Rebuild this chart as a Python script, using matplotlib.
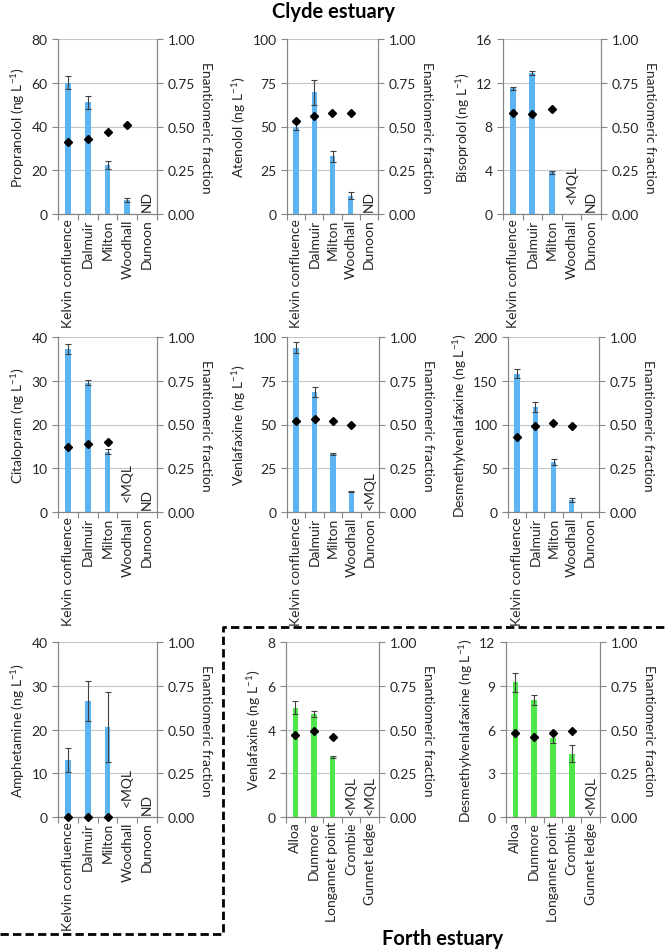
import numpy as np
import matplotlib.pyplot as plt
from matplotlib.lines import Line2D

plt.rcParams['font.family'] = ['Lato', 'DejaVu Sans']
plt.rcParams['mathtext.default'] = 'regular'
FS = 10

clyde_sites = ["Kelvin confluence", "Dalmuir", "Milton", "Woodhall", "Dunoon"]
forth_sites = ["Alloa", "Dunmore", "Longannet point", "Crombie", "Gunnet ledge"]

# concentrations (ng/L), errors, enantiomeric fractions; nan = nothing drawn
propranolol = [60, 51, 22.5, 6.5, np.nan]
propranolol_err = [3, 3, 1.8, 0.8, np.nan]
propranolol_ef = [0.41, 0.43, 0.47, 0.51, np.nan]

atenolol = [50, 69.5, 33, 10.5, np.nan]
atenolol_err = [2, 7, 3, 1.8, np.nan]
atenolol_ef = [0.53, 0.56, 0.58, 0.58, np.nan]

bisoprolol = [11.5, 12.9, 3.8, np.nan, np.nan]
bisoprolol_err = [0.15, 0.15, 0.15, np.nan, np.nan]
bisoprolol_ef = [0.58, 0.57, 0.60, np.nan, np.nan]

citalopram = [37.3, 29.6, 13.8, np.nan, np.nan]
citalopram_err = [1.2, 0.6, 0.6, np.nan, np.nan]
citalopram_ef = [0.37, 0.39, 0.40, np.nan, np.nan]

venlafaxine = [94, 68.5, 33, 11.7, np.nan]
venlafaxine_err = [3, 3, 0.7, 0.3, np.nan]
venlafaxine_ef = [0.52, 0.53, 0.52, 0.50, np.nan]

dvf = [158, 120, 57, 14, np.nan]
dvf_err = [5, 6, 3.5, 2, np.nan]
dvf_ef = [0.43, 0.49, 0.51, 0.49, np.nan]

amphetamine = [13, 26.5, 20.5, np.nan, np.nan]
amphetamine_err = [2.7, 4.5, 8, np.nan, np.nan]
amphetamine_ef = [0, 0, 0, np.nan, np.nan]

venlafaxine_f = [5.0, 4.7, 2.75, np.nan, np.nan]
venlafaxine_f_err = [0.3, 0.15, 0.05, np.nan, np.nan]
venlafaxine_f_ef = [0.47, 0.49, 0.46, np.nan, np.nan]

dvf_f = [9.25, 8.0, 5.4, 4.35, np.nan]
dvf_f_err = [0.65, 0.35, 0.3, 0.6, np.nan]
dvf_f_ef = [0.48, 0.46, 0.48, 0.49, np.nan]

# notes at empty sites: (index, text)
propranolol_notes = [(4, "ND")]
atenolol_notes = [(4, "ND")]
bisoprolol_notes = [(3, "<MQL"), (4, "ND")]
citalopram_notes = [(3, "<MQL"), (4, "ND")]
venlafaxine_notes = [(4, "<MQL")]
dvf_notes = []
amphetamine_notes = [(3, "<MQL"), (4, "ND")]
venlafaxine_f_notes = [(3, "<MQL"), (4, "<MQL")]
dvf_f_notes = [(4, "<MQL")]

W, H = 667, 953
BLUE = "#5db4f2"
GREEN = "#4fe64a"
GRID = "#bfc7cc"
SPINE = "#868686"
TXT = "#262626"


def box(l, t, r, b):
    return [l / W, 1 - b / H, (r - l) / W, (b - t) / H]


def panel(rect, name, sites, conc, err, ef, notes, ymax, step, color):
    ax = fig.add_axes(rect)
    x = np.arange(len(sites))
    ax.bar(x, conc, width=0.3, color=color, zorder=2)
    ax.errorbar(x, conc, yerr=err, fmt='none', ecolor='#404040',
                elinewidth=0.8, capsize=2, capthick=0.8, zorder=3)
    ax.set_xlim(-0.5, len(sites) - 0.5)
    ax.set_ylim(0, ymax)
    ax.set_yticks(np.arange(0, ymax + step / 2, step))
    ax.yaxis.grid(True, color=GRID, lw=0.8, zorder=0)
    ax.set_axisbelow(True)
    ax.set_xticks(np.arange(len(sites) + 1) - 0.5)
    ax.set_xticklabels([])
    ax.tick_params(axis='x', length=4, color=SPINE, direction='out')
    ax.tick_params(axis='y', length=4, color=SPINE, colors=TXT, labelsize=FS)
    for i, s in enumerate(sites):
        ax.text(i, -0.025, s, transform=ax.get_xaxis_transform(),
                rotation=90, ha='center', va='top', color=TXT, fontsize=FS)
    ax.spines['top'].set_visible(False)
    for sp in ['left', 'right', 'bottom']:
        ax.spines[sp].set_color(SPINE)
    ax.set_ylabel(name + " (ng L$^{-1}$)", color=TXT, fontsize=FS, labelpad=3)

    for i, t in notes:
        off = 8 if (t == "<MQL" and any(n[1] == "ND" for n in notes)) else 2
        ax.annotate(t, (i, 0), xytext=(0, off), textcoords='offset points',
                    rotation=90, ha='center', va='bottom', color=TXT, fontsize=FS)

    ax2 = ax.twinx()
    ax2.set_ylim(0, 1)
    ax2.set_yticks([0, 0.25, 0.5, 0.75, 1.0])
    ax2.set_yticklabels(["0.00", "0.25", "0.50", "0.75", "1.00"])
    ax2.tick_params(axis='y', length=4, color=SPINE, colors=TXT, labelsize=FS)
    ax2.spines['top'].set_visible(False)
    for sp in ['left', 'right', 'bottom']:
        ax2.spines[sp].set_color(SPINE)
    ax2.plot(x, ef, 'D', color='black', ms=4.5, zorder=4, clip_on=False)
    ax2.set_ylabel("Enantiomeric fraction", rotation=270, va='bottom',
                   color=TXT, fontsize=FS, labelpad=4)
    return ax


fig = plt.figure(figsize=(W / 100, H / 100), dpi=100)

panel(box(58, 40, 157, 215), "Propranolol", clyde_sites, propranolol,
      propranolol_err, propranolol_ef, propranolol_notes, 80, 20, BLUE)
panel(box(287, 40, 378, 215), "Atenolol", clyde_sites, atenolol,
      atenolol_err, atenolol_ef, atenolol_notes, 100, 25, BLUE)
panel(box(503, 40, 601, 215), "Bisoprolol", clyde_sites, bisoprolol,
      bisoprolol_err, bisoprolol_ef, bisoprolol_notes, 16, 4, BLUE)

panel(box(58, 338, 157, 513), "Citalopram", clyde_sites, citalopram,
      citalopram_err, citalopram_ef, citalopram_notes, 40, 10, BLUE)
panel(box(287, 338, 379, 513), "Venlafaxine", clyde_sites, venlafaxine,
      venlafaxine_err, venlafaxine_ef, venlafaxine_notes, 100, 25, BLUE)
panel(box(508, 338, 599, 513), "Desmethylvenlafaxine", clyde_sites, dvf,
      dvf_err, dvf_ef, dvf_notes, 200, 50, BLUE)

panel(box(58, 643, 157, 818), "Amphetamine", clyde_sites, amphetamine,
      amphetamine_err, amphetamine_ef, amphetamine_notes, 40, 10, BLUE)
panel(box(286, 643, 379, 818), "Venlafaxine", forth_sites, venlafaxine_f,
      venlafaxine_f_err, venlafaxine_f_ef, venlafaxine_f_notes, 8, 2, GREEN)
panel(box(506, 643, 600, 818), "Desmethylvenlafaxine", forth_sites, dvf_f,
      dvf_f_err, dvf_f_ef, dvf_f_notes, 12, 3, GREEN)

fig.text(333 / W, 1 - 12 / H, "Clyde estuary", ha='center', va='center',
         fontsize=14.5, fontweight='bold', color='black')
fig.text(443 / W, 1 - 939 / H, "Forth estuary", ha='center', va='center',
         fontsize=14.5, fontweight='bold', color='black')

# dashed boundary round the Forth panels
xs = np.array([0, 223, 223, W]) / W
ys = 1 - np.array([935, 935, 628, 628]) / H
fig.add_artist(Line2D(xs, ys, transform=fig.transFigure, color='black',
                      lw=2, ls=(0, (3, 1.5))))

fig.savefig("out.png", dpi=100)
